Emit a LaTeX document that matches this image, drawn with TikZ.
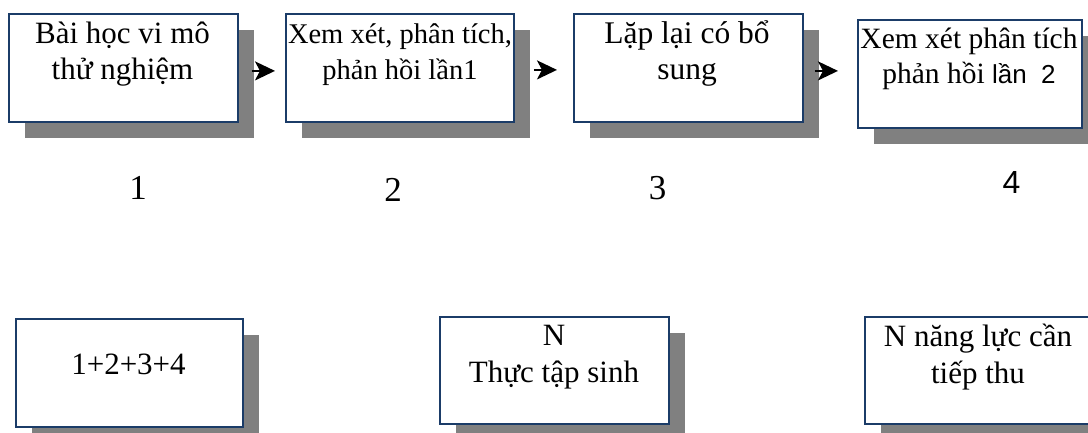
\documentclass[tikz,border=0pt]{standalone}
\usepackage{fontspec}
\setmainfont{Liberation Serif}
\setsansfont{Liberation Sans}
\usetikzlibrary{shadows,arrows.meta}
\definecolor{boxblue}{HTML}{1B3C68}
\definecolor{shadowgray}{HTML}{808080}
% fixed height of the first text line, so baselines can be placed exactly
\newcommand\firstline[1]{\rule{0pt}{#1}}

\begin{document}
\begin{tikzpicture}[x=1pt,y=-1pt,
  box/.style={draw=boxblue, line width=1.8pt, fill=white, inner sep=0pt,
    anchor=north west,
    drop shadow={shadow xshift=16pt, shadow yshift=-16pt, fill=shadowgray, opacity=1}},
  toptext/.style={inner sep=0pt, anchor=north, align=center},
  lowtext/.style={inner sep=0pt, anchor=north, align=center,
    font=\fontsize{31}{37}\selectfont},
  numlabel/.style={inner sep=0pt, anchor=base, font=\fontsize{35}{40}\selectfont},
  arr/.style={line width=2pt, -{Stealth[length=20pt,width=19pt,inset=5pt]}}
]
\clip (0,0) rectangle (1088,432);
\fill[white] (0,0) rectangle (1088,432);

% upper row of steps
\node[box, minimum width=229pt, minimum height=108pt] (b1) at (8,13) {};
\node[box, minimum width=228pt, minimum height=108pt] (b2) at (285,13) {};
\node[box, minimum width=229pt, minimum height=108pt] (b3) at (573,13) {};
\node[box, minimum width=224pt, minimum height=108pt] (b4) at (857,19) {};

\node[toptext, font=\fontsize{31}{36}\selectfont] (t1) at (122.5,12)
  {\firstline{31pt}Bài học vi mô\\thử nghiệm};
\node[toptext, font=\fontsize{28.5}{36}\selectfont] (t2) at (400,12)
  {\firstline{31pt}Xem xét, phân tích,\\phản hồi lần1};
\node[toptext, font=\fontsize{31.5}{36}\selectfont] (t3) at (687,12)
  {\firstline{31pt}Lặp lại có bổ\\sung};
\node[toptext, font=\fontsize{29.5}{35}\selectfont] (t4) at (969,17)
  {\firstline{31pt}Xem xét phân tích\\phản hồi {\sffamily\fontsize{26}{35}\selectfont lần\ \ 2}};

% arrows between the steps
\draw[arr] ([shift={(13,3)}]b1.east) -- ([shift={(-10,3)}]b2.west);
\draw[arr] ([shift={(19,2)}]b2.east) -- ([shift={(-16,2)}]b3.west);
\draw[arr] ([shift={(11,3)}]b3.east) -- ([shift={(-19,-3)}]b4.west);

% step numbers
\node[numlabel] (n1) at (138,199) {1};
\node[numlabel] (n2) at (393,201) {2};
\node[numlabel] (n3) at (657.5,199) {3};
\node[numlabel, font=\fontsize{32}{38}\selectfont\sffamily] (n4) at (1011.5,193) {4};

% lower row
\node[box, minimum width=227pt, minimum height=108pt] (b5) at (15,318) {};
\node[box, minimum width=229pt, minimum height=107pt] (b6) at (439,316) {};
\node[box, minimum width=240pt, minimum height=107pt] (b7) at (864,316) {};

\node[inner sep=0pt, anchor=base, font=\fontsize{31}{37}\selectfont] (t5) at (128.5,374) {1+2+3+4};
\node[lowtext] (t6) at (554,316) {\firstline{29pt}N\\Thực tập sinh};
\node[lowtext] (t7) at (978,317) {\firstline{29pt}N năng lực cần\\tiếp thu};
\end{tikzpicture}
\end{document}
